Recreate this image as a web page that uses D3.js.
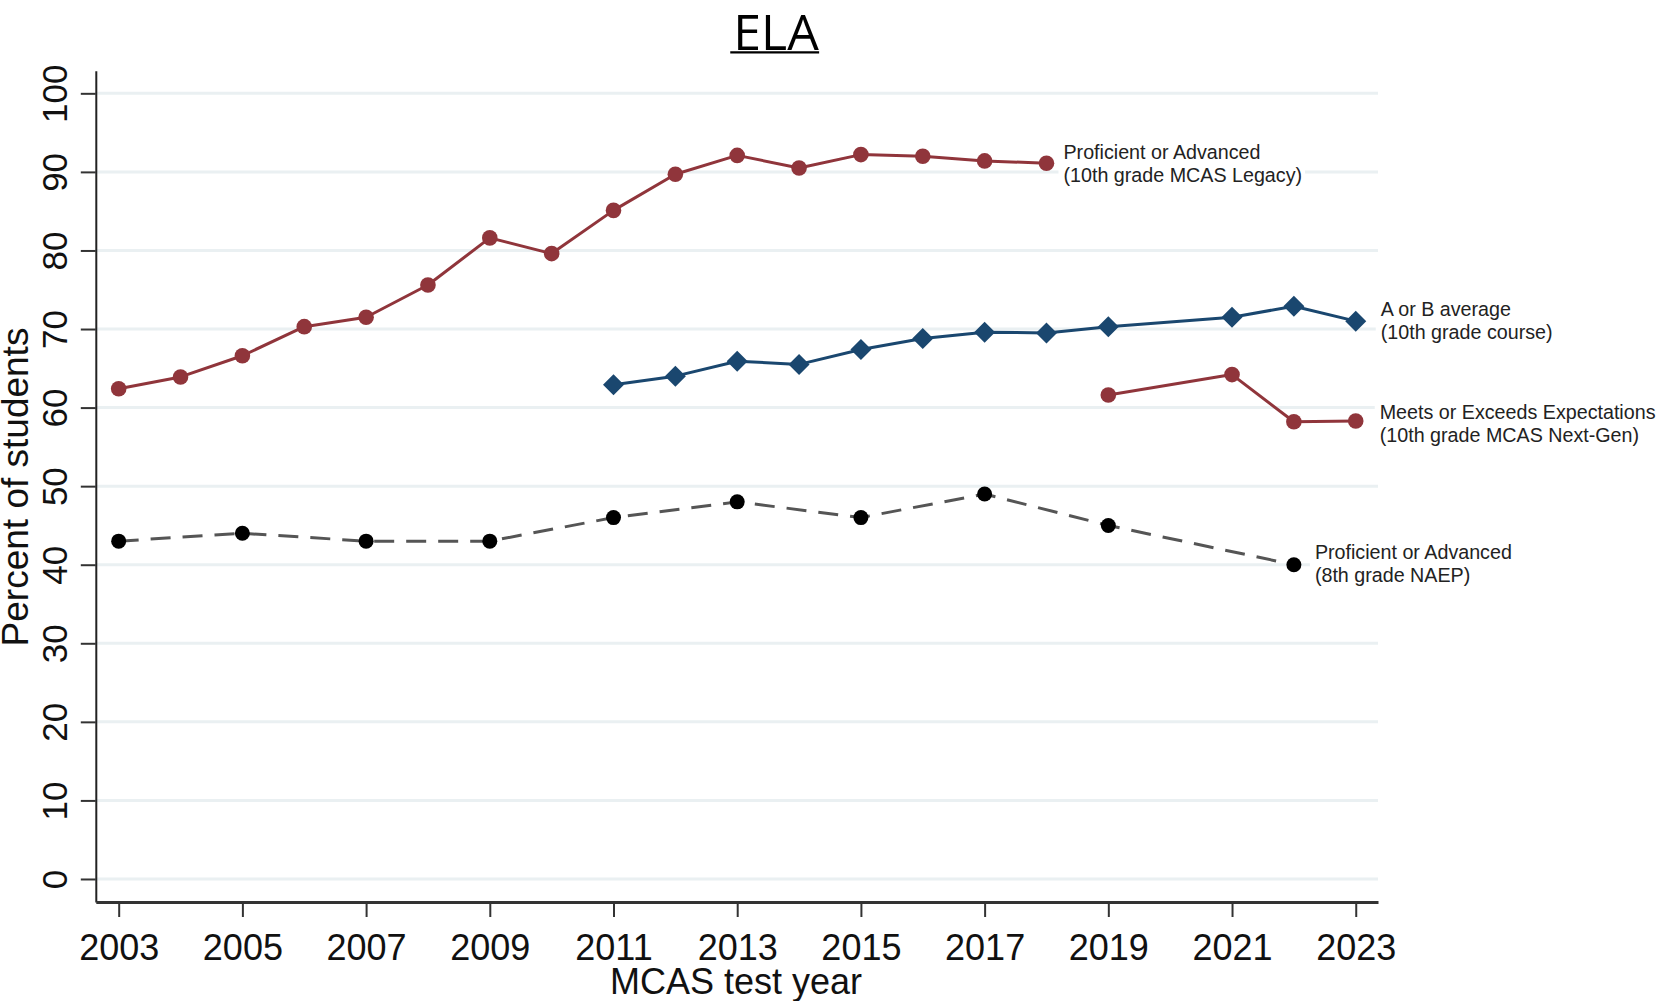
<!DOCTYPE html>
<html>
<head>
<meta charset="utf-8">
<script src="https://cdn.jsdelivr.net/npm/d3@7"></script>
<style>
  html, body { margin: 0; padding: 0; background: #fff; }
  svg { display: block; }
</style>
</head>
<body>
<svg id="chart" width="1659" height="1001"></svg>
<script>
// ---------- data ----------
const legacyYears  = [2003,2004,2005,2006,2007,2008,2009,2010,2011,2012,2013,2014,2015,2016,2017,2018];
const legacyValues = [62.4,63.9,66.6,70.3,71.5,75.6,81.6,79.6,85.1,89.7,92.1,90.5,92.2,92.0,91.4,91.1];

const gradeYears  = [2011,2012,2013,2014,2015,2016,2017,2018,2019,2021,2022,2023];
const gradeValues = [62.9,64.0,65.9,65.5,67.4,68.8,69.6,69.5,70.3,71.5,72.9,71.0];

const nextGenYears  = [2019,2021,2022,2023];
const nextGenValues = [61.6,64.2,58.2,58.3];

const naepYears  = [2003,2005,2007,2009,2011,2013,2015,2017,2019,2022];
const naepValues = [43,44,43,43,46,48,46,49,45,40];

const yTicks = [0,10,20,30,40,50,60,70,80,90,100];
const xTicks = [2003,2005,2007,2009,2011,2013,2015,2017,2019,2021,2023];

const legacyLabel  = ["Proficient or Advanced", "(10th grade MCAS Legacy)"];
const gradeLabel   = ["A or B average", "(10th grade course)"];
const nextGenLabel = ["Meets or Exceeds Expectations", "(10th grade MCAS Next-Gen)"];
const naepLabel    = ["Proficient or Advanced", "(8th grade NAEP)"];

const titleText = "ELA";
const xTitle = "MCAS test year";
const yTitle = "Percent of students";

// ---------- drawing ----------
const svg = d3.select("#chart");
const RED = "#90353B", BLUE = "#1A476F", GRAY = "#555555";
const FONT = "'Liberation Sans', Arial, sans-serif";

const x = d3.scaleLinear().domain([2002.63, 2023.36]).range([95.8, 1378]);
const y = d3.scaleLinear().domain([-2.93, 102.88]).range([902, 70.7]);

// gridlines
svg.append("g").selectAll("line").data(yTicks).join("line")
  .attr("x1", x.range()[0]).attr("x2", x.range()[1])
  .attr("y1", d => y(d)).attr("y2", d => y(d))
  .attr("stroke", "#EAF0F2").attr("stroke-width", 3);

// y axis
const yAxis = svg.append("g").attr("transform", `translate(${x.range()[0]},0)`)
  .call(d3.axisLeft(y).tickValues(yTicks).tickSize(15).tickSizeOuter(0).tickPadding(0));
yAxis.select(".domain").attr("stroke", "#222").attr("stroke-width", 2);
yAxis.selectAll(".tick line").attr("stroke", "#333").attr("stroke-width", 2);
yAxis.selectAll(".tick text")
  .attr("x", null).attr("dy", null)
  .attr("text-anchor", "middle")
  .attr("transform", "translate(-29,0) rotate(-90)")
  .style("font-family", FONT).style("font-size", "35px").attr("fill", "#111");

// x axis
const xAxis = svg.append("g").attr("transform", `translate(0,${y.range()[0]})`)
  .call(d3.axisBottom(x).tickValues(xTicks).tickFormat(d3.format("d")).tickSize(15).tickSizeOuter(0).tickPadding(0));
xAxis.select(".domain").attr("stroke", "#333").attr("stroke-width", 3);
xAxis.selectAll(".tick line").attr("stroke", "#333").attr("stroke-width", 2);
xAxis.selectAll(".tick text")
  .attr("y", 58).attr("dy", null)
  .style("font-family", FONT).style("font-size", "36px").attr("fill", "#111");

// axis titles
svg.append("text").attr("x", 736).attr("y", 994).attr("text-anchor", "middle")
  .style("font-family", FONT).style("font-size", "36px").attr("fill", "#111").text(xTitle);
svg.append("text").attr("transform", "translate(28,487) rotate(-90)").attr("text-anchor", "middle")
  .style("font-family", FONT).style("font-size", "37px").attr("fill", "#111").text(yTitle);

// title
const t = svg.append("text").attr("x", 776).attr("y", 50).attr("text-anchor", "middle")
  .style("font-family", "'Open Sans', sans-serif").style("font-size", "50px").attr("fill", "#000").text(titleText);
const tb = t.node().getBBox();
svg.append("line").attr("x1", tb.x - 3).attr("x2", tb.x + tb.width).attr("y1", 52.3).attr("y2", 52.3)
  .attr("stroke", "#000").attr("stroke-width", 2.2);

// series helper
const line = d3.line().x(d => x(d[0])).y(d => y(d[1]));
function zip(a, b) { return a.map((v, i) => [v, b[i]]); }

function drawSeries(years, values, opts) {
  const pts = zip(years, values);
  const g = svg.append("g");
  const path = g.append("path").datum(pts).attr("d", line)
    .attr("fill", "none").attr("stroke", opts.lineColor).attr("stroke-width", 3)
    .attr("stroke-linejoin", "round");
  if (opts.dash) path.attr("stroke-dasharray", opts.dash);
  if (opts.marker === "diamond") {
    const s = opts.size;
    g.selectAll("path.m").data(pts).join("path").attr("class", "m")
      .attr("d", d => `M${x(d[0])},${y(d[1]) - s}L${x(d[0]) + s},${y(d[1])}L${x(d[0])},${y(d[1]) + s}L${x(d[0]) - s},${y(d[1])}Z`)
      .attr("fill", opts.markerColor);
  } else {
    g.selectAll("circle").data(pts).join("circle")
      .attr("cx", d => x(d[0])).attr("cy", d => y(d[1])).attr("r", opts.size)
      .attr("fill", opts.markerColor);
  }
  return pts[pts.length - 1];
}

function drawLabel(lastPt, lines, gap, dy) {
  const lx = x(lastPt[0]) + gap, ly = y(lastPt[1]) + dy;
  const g = svg.append("g");
  const bg = g.append("rect").attr("fill", "#fff");
  const txt = g.selectAll("text").data(lines).join("text")
    .attr("x", lx).attr("y", (d, i) => ly + i * 23)
    .style("font-family", FONT).style("font-size", "19.7px").attr("fill", "#222").text(d => d);
  const bb = g.node().getBBox();
  bg.attr("x", bb.x - 5).attr("y", bb.y).attr("width", bb.width + 8).attr("height", bb.height);
}

const lastLegacy = drawSeries(legacyYears, legacyValues, {lineColor: RED, markerColor: RED, size: 7.8});
const lastGrade = drawSeries(gradeYears, gradeValues, {lineColor: BLUE, markerColor: BLUE, marker: "diamond", size: 10.5});
const lastNext = drawSeries(nextGenYears, nextGenValues, {lineColor: RED, markerColor: RED, size: 7.8});
const lastNaep = drawSeries(naepYears, naepValues, {lineColor: GRAY, markerColor: "#000", size: 7.5, dash: "20,12"});

drawLabel(lastLegacy, legacyLabel, 17, -4);
drawLabel(lastGrade, gradeLabel, 25, -5);
drawLabel(lastNext, nextGenLabel, 24, -1.5);
drawLabel(lastNaep, naepLabel, 21, -6);
</script>
</body>
</html>
